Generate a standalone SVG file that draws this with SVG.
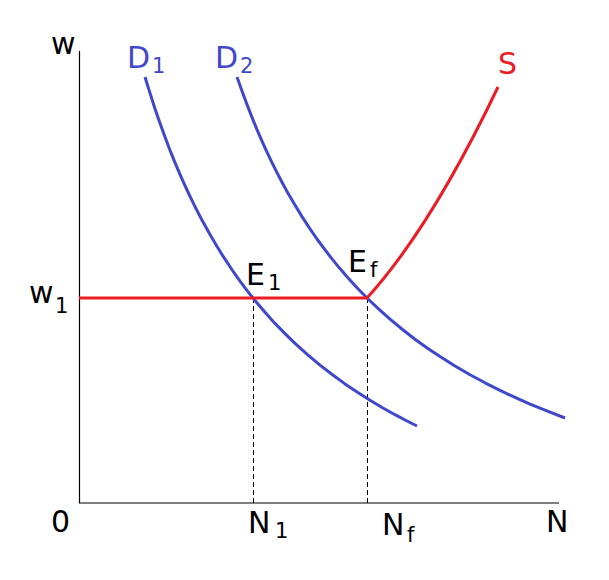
<svg xmlns="http://www.w3.org/2000/svg" width="609" height="580" viewBox="0 0 609 580">
<style>
.t{font-family:"DejaVu Sans",Verdana,sans-serif;font-size:30px;fill:#000}
.s{font-size:21px}
.blue{fill:#3f48cc}
.red{fill:#ed1c24}
.axis{stroke:#000;stroke-width:1.2;fill:none}
.dash{stroke:#000;stroke-width:1;stroke-dasharray:5 3;fill:none}
.dc{stroke:#3f48cc;stroke-width:3;fill:none;stroke-linejoin:round}
.sc{stroke:#ed1c24;stroke-width:3;fill:none;stroke-linejoin:round}
</style>
<rect width="609" height="580" fill="#fff"/>
<g id="axes">
<path class="axis" d="M79.5 51 V503 H559"/>
</g>
<g id="connectors">
<path class="dash" d="M253.5 298 V503"/>
<path class="dash" d="M367.5 298 V503"/>
<path id="D1" class="dc" d="M145 77 L150 93.1 L155 108.8 L160 123.3 L165 137.1 L170 150.2 L175 162.6 L180 174.4 L185 185.7 L190 196.4 L195 206.6 L202.5 221.1 L210 234.6 L217.5 247.3 L225 259.2 L232.5 270.5 L240 281.1 L247.5 291.1 L255 300.5 L265 312.3 L275 323.4 L285 333.6 L295 343.4 L307.5 354.6 L320 365.1 L332.5 374.8 L345 383.9 L357.5 392.3 L370 400.3 L382.5 407.7 L395 414.7 L406 420.5 L417 426"/>
<path id="D2" class="dc" d="M237 77 L242 91.1 L247 104.6 L252 117.4 L257 129.6 L262 141.1 L267 152.1 L272 162.6 L277 172.6 L282 182.2 L287 191.4 L294.5 204.3 L302 216.6 L309.5 228.1 L317 239 L324.5 249.2 L332 258.9 L339.5 268.1 L347 276.8 L357 287.7 L367 298 L378.5 308.9 L390 319.2 L402.5 329.5 L415 339.2 L427.5 348.2 L440 356.6 L455 366 L470 374.7 L485 382.8 L500 390.4 L515 397.4 L530 404.1 L547.5 411.2 L565 418"/>
<path id="S" class="sc" d="M79 298 H367 Q431 227.5 498 87"/>
</g>
<g id="labels">
<text class="t" x="51" y="54">w</text>
<text class="t blue" x="127" y="68">D<tspan class="s" x="152" y="73">1</tspan></text>
<text class="t blue" x="215" y="68">D<tspan class="s" x="240" y="73">2</tspan></text>
<text class="t red" x="498" y="74">S</text>
<text class="t" x="246" y="285">E<tspan class="s" x="268" y="290">1</tspan></text>
<text class="t" x="348" y="272">E<tspan class="s" x="370" y="277">f</tspan></text>
<text class="t" x="29" y="303">w<tspan class="s" x="55" y="313">1</tspan></text>
<text class="t" x="51" y="532">0</text>
<text class="t" x="248" y="533">N<tspan class="s" x="275" y="538">1</tspan></text>
<text class="t" x="382" y="535">N<tspan class="s" x="407" y="542">f</tspan></text>
<text class="t" x="546" y="532">N</text>
</g>
</svg>
